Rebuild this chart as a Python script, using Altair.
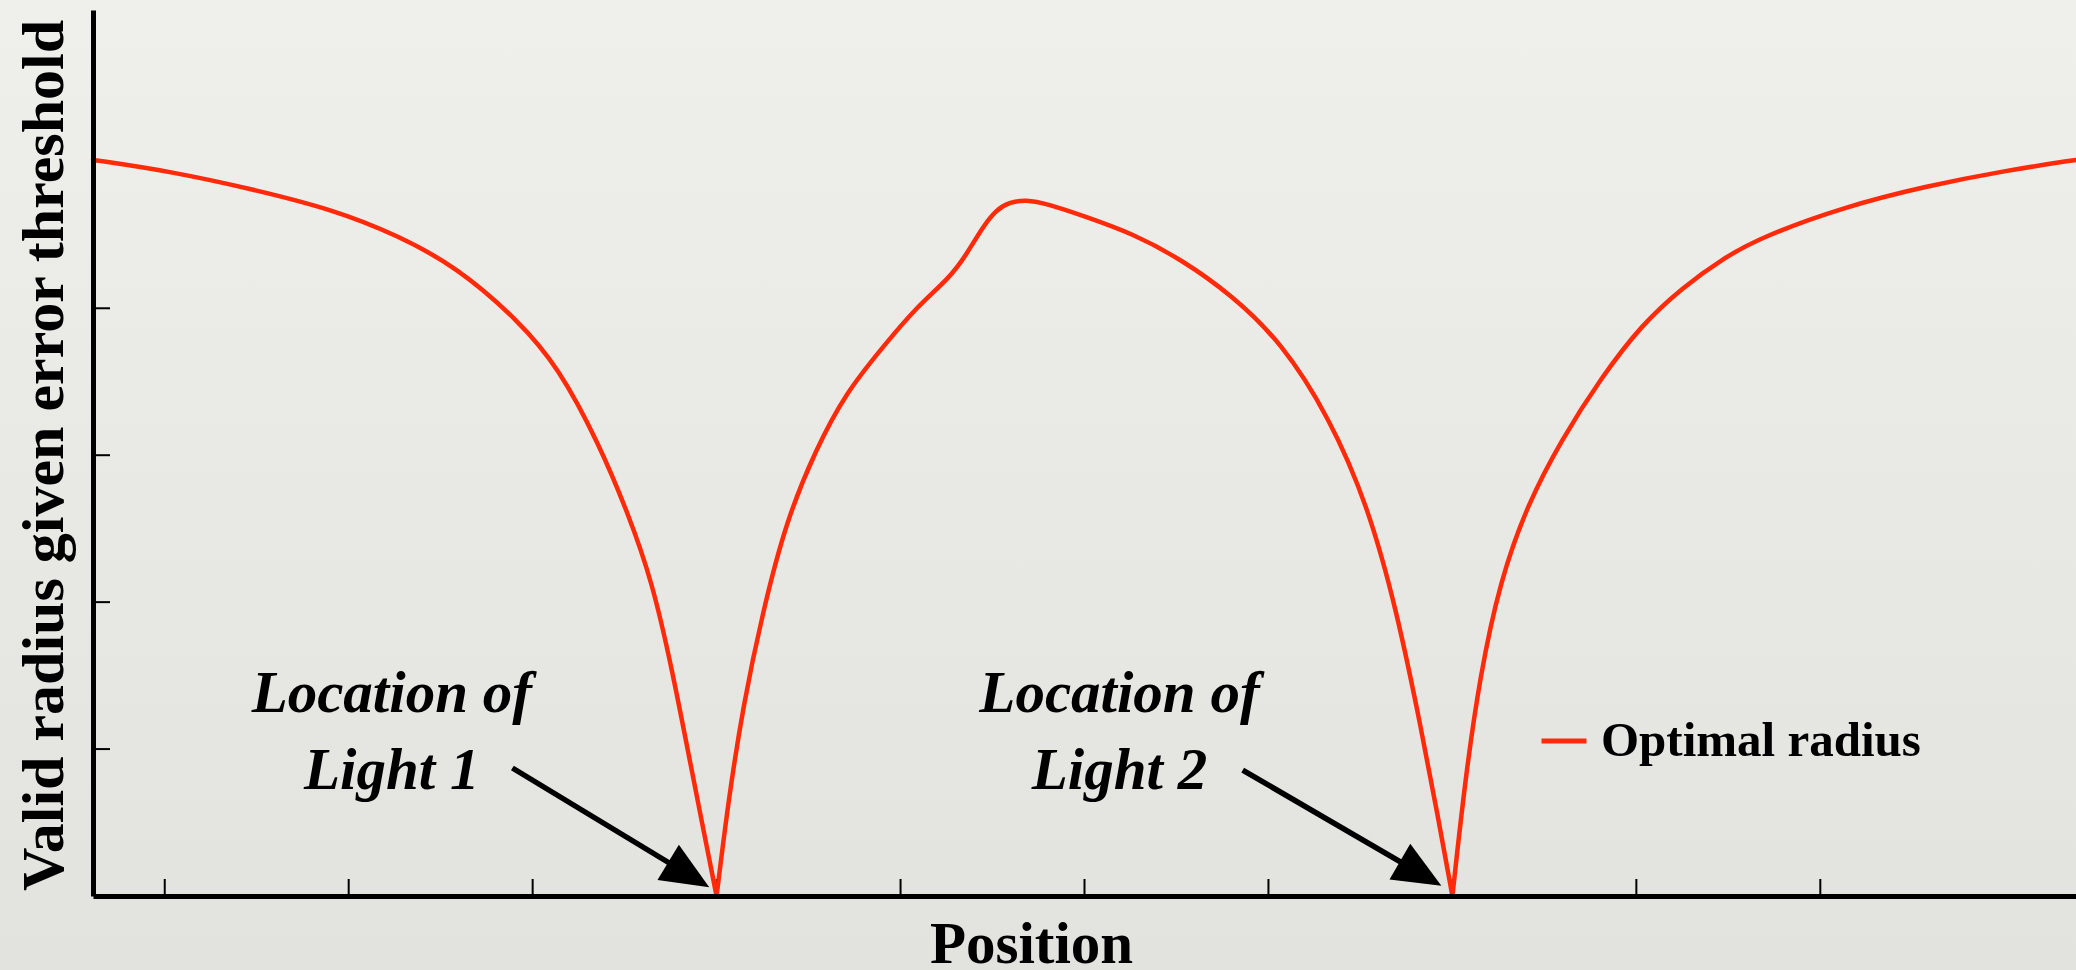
import math
import altair as alt
import pandas as pd

# Optimal radius along the position axis, split into three branches at the two lights
left_x = [-0.39, 0.04, 0.48, 0.92, 1.26, 1.59, 1.92, 2.14, 2.36, 2.52, 2.65, 2.76, 2.85, 2.93, 3.00]
left_y = [5.01, 4.93, 4.81, 4.67, 4.50, 4.28, 3.92, 3.60, 3.08, 2.60, 2.14, 1.53, 0.95, 0.44, 0.00]

mid_x = [3.00, 3.065, 3.145, 3.25, 3.38, 3.54, 3.70, 3.90, 4.08, 4.27, 4.36, 4.45, 4.52, 4.59,
         4.68, 4.80, 4.99, 5.26, 5.53, 5.80, 6.07, 6.33, 6.54, 6.70, 6.83, 6.92, 7.00]
mid_y = [0.00, 0.66, 1.30, 1.93, 2.56, 3.04, 3.42, 3.73, 4.00, 4.21, 4.37, 4.56, 4.67, 4.72,
         4.74, 4.71, 4.63, 4.51, 4.33, 4.09, 3.77, 3.26, 2.66, 1.93, 1.14, 0.55, 0.00]

right_x = [7.00, 7.07, 7.15, 7.26, 7.41, 7.59, 7.81, 8.03, 8.25, 8.47, 8.69, 9.13, 9.57, 10.02, 10.39]
right_y = [0.00, 0.80, 1.50, 2.15, 2.67, 3.10, 3.53, 3.89, 4.14, 4.34, 4.49, 4.69, 4.83, 4.94, 5.01]

series_name = "Optimal radius"

# axis ticks (drawn inward)
x_ticks = [0, 1, 2, 3, 4, 5, 6, 7, 8, 9]
y_ticks = [1, 2, 3, 4, 5]

# light annotations
note_text = ["Location of\nLight 1", "Location of\nLight 2"]
note_x = [1.234, 5.19]
note_y = [1.252, 1.252]

arrow_tail_x = [1.890, 5.860]
arrow_tail_y = [0.871, 0.857]
arrow_tip_x = [2.960, 6.940]
arrow_tip_y = [0.060, 0.070]

# layout
W, H = 1983, 886
PAD = {"left": 93, "top": 10, "right": 0, "bottom": 74}
X_DOM = [-0.39, 10.39]
Y_DOM = [0.0, 6.03]
RED = "#ff2a0a"
SERIF = "Liberation Serif"
HEAD_LEN = 48  # arrowhead length in px

px_x = W / (X_DOM[1] - X_DOM[0])
px_y = H / (Y_DOM[1] - Y_DOM[0])

curve = pd.concat([
    pd.DataFrame({"x": left_x, "y": left_y, "seg": "a"}),
    pd.DataFrame({"x": mid_x, "y": mid_y, "seg": "b"}),
    pd.DataFrame({"x": right_x, "y": right_y, "seg": "c"}),
], ignore_index=True)
curve["series"] = series_name

xt = pd.DataFrame({"x": x_ticks})
yt = pd.DataFrame({"y": y_ticks})
notes = pd.DataFrame({"x": note_x, "y": note_y, "label": note_text})

rows = []
for tx, ty, hx, hy in zip(arrow_tail_x, arrow_tail_y, arrow_tip_x, arrow_tip_y):
    dx = (hx - tx) * px_x
    dy = (ty - hy) * px_y
    ang = math.degrees(math.atan2(dy, dx))
    c, s = math.cos(math.radians(ang)), math.sin(math.radians(ang))
    cx = hx - (HEAD_LEN / 2) * c / px_x
    cy = hy + (HEAD_LEN / 2) * s / px_y
    rows.append({"x": tx, "y": ty, "x2": cx, "y2": cy, "hx": cx, "hy": cy, "angle": ang})
arrows = pd.DataFrame(rows)

x_scale = alt.Scale(domain=X_DOM, nice=False, zero=False)
y_scale = alt.Scale(domain=Y_DOM, nice=False, zero=False)

x_axis = alt.Axis(
    title="Position", labels=False, ticks=False, grid=False, zindex=1,
    domainColor="black", domainWidth=5,
    titleFont=SERIF, titleFontSize=59, titleFontWeight="bold", titleColor="black",
    titleX=938, titleY=66, titleAlign="center", titleBaseline="alphabetic",
)
y_axis = alt.Axis(
    title="Valid radius given error threshold", labels=False, ticks=False, grid=False, zindex=1,
    domainColor="black", domainWidth=5,
    titleFont=SERIF, titleFontSize=60, titleFontWeight="bold", titleColor="black",
    titleAngle=270, titleX=-31, titleY=445, titleAlign="center", titleBaseline="alphabetic",
)

X = alt.X("x:Q", scale=x_scale, axis=x_axis, title="Position")
Y = alt.Y("y:Q", scale=y_scale, axis=y_axis, title="Valid radius given error threshold")

# paper-like backdrop, lighter at the top
backdrop = alt.Chart(pd.DataFrame({"k": [0]})).mark_rect(
    color=alt.LinearGradient(
        gradient="linear", x1=0, y1=0, x2=0, y2=1,
        stops=[alt.GradientStop(offset=0, color="#efefec"),
               alt.GradientStop(offset=1, color="#e2e2de")],
    )
).encode(
    x=alt.value(-PAD["left"]), x2=alt.value(W + PAD["right"]),
    y=alt.value(-PAD["top"]), y2=alt.value(H + PAD["bottom"]),
)

x_tick_layer = alt.Chart(xt).mark_rule(color="black", strokeWidth=2).encode(
    x=X, y=alt.value(H), y2=alt.value(H - 17)
)
y_tick_layer = alt.Chart(yt).mark_rule(color="black", strokeWidth=2).encode(
    y=Y, x=alt.value(0), x2=alt.value(17)
)

line = alt.Chart(curve).mark_line(strokeWidth=4.5, strokeCap="round", strokeJoin="round",
                                  interpolate="basis").encode(
    x=X, y=Y, detail="seg:N",
    color=alt.Color(
        "series:N",
        scale=alt.Scale(domain=[series_name], range=[RED]),
        legend=alt.Legend(
            title=None, orient="none", legendX=1446, legendY=706,
            symbolType="stroke", symbolSize=2025, symbolStrokeWidth=5,
            labelFont=SERIF, labelFontSize=49, labelFontWeight="bold",
            labelColor="black", labelOffset=12, labelLimit=1000, padding=0,
        ),
    ),
)

shafts = alt.Chart(arrows).mark_rule(color="black", strokeWidth=5.5).encode(
    x=X, y=Y, x2="x2:Q", y2="y2:Q"
)
heads = alt.Chart(arrows).mark_point(
    shape="M1,0L-1,-0.86L-1,0.86Z", filled=True, color="black", opacity=1,
    size=HEAD_LEN * HEAD_LEN,
).encode(
    x=alt.X("hx:Q", scale=x_scale, axis=x_axis, title="Position"),
    y=alt.Y("hy:Q", scale=y_scale, axis=y_axis, title="Valid radius given error threshold"),
    angle=alt.Angle("angle:Q", scale=None),
)

text = alt.Chart(notes).mark_text(
    font=SERIF, fontSize=59, fontStyle="italic", fontWeight="bold",
    align="center", baseline="alphabetic", lineBreak="\n", lineHeight=77, color="black",
).encode(x=X, y=Y, text="label:N")

chart = alt.layer(
    backdrop, x_tick_layer, y_tick_layer, line, shafts, heads, text
).properties(
    width=W, height=H,
    autosize=alt.AutoSizeParams(type="none"),
    padding=PAD,
    background="#e7e7e3",
).configure_view(stroke=None)

chart.save("out.html", embed_options={"renderer": "svg", "actions": False})
